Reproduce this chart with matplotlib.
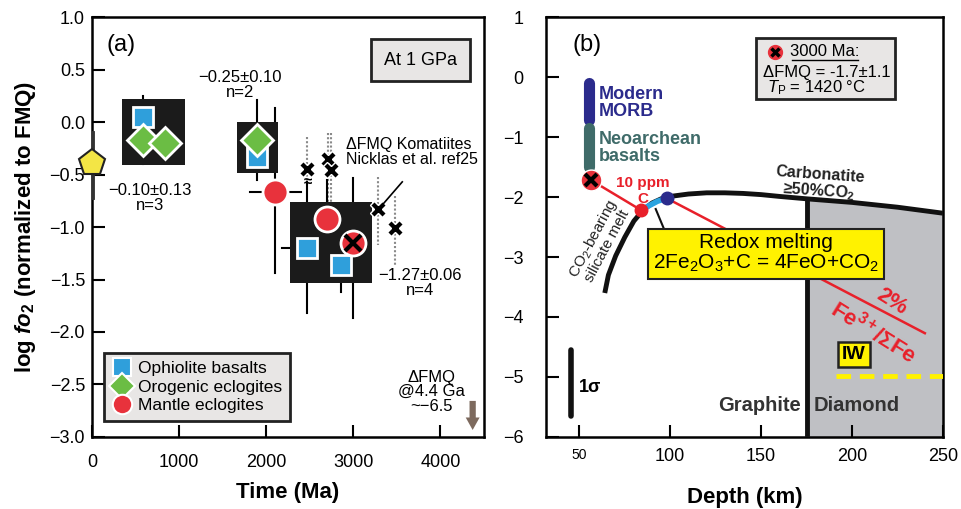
import matplotlib
matplotlib.use('Agg')
import matplotlib.pyplot as plt
from matplotlib.patches import Rectangle
from matplotlib.lines import Line2D
import numpy as np

plt.rcParams['font.family'] = ['Liberation Sans', 'DejaVu Sans']
plt.rcParams['mathtext.fontset'] = 'custom'
plt.rcParams['mathtext.rm'] = 'Liberation Sans'
plt.rcParams['mathtext.it'] = 'Liberation Sans:italic'
plt.rcParams['mathtext.bf'] = 'Liberation Sans:bold'
plt.rcParams['mathtext.bfit'] = 'Liberation Sans:italic:bold'

# ---- panel (a) data ----
oph_x = [584, 1900, 2474, 2864]
oph_y = [0.05, -0.33, -1.20, -1.36]
oro_x = [584, 836, 1900]
oro_y = [-0.17, -0.20, -0.17]
man_x = [2100, 2703, 3001]
man_y = [-0.67, -0.92, -1.15]
# vertical error bars: x, top, bottom
verr_x = [584, 1900, 2100, 2474, 2703, 3001, 2864]
verr_top = [0.25, 0.21, 0.13, -0.57, -0.55, -0.53, -1.10]
verr_bot = [-0.40, -0.55, -1.44, -1.82, -1.38, -1.87, -1.62]
# horizontal error bars: y, left, right
herr_y = [-0.67, -1.20]
herr_l = [1810, 2176]
herr_r = [2405, 2760]
# mean boxes: x0, x1, y0, y1
box_x0 = [344, 1661, 2268]
box_x1 = [1065, 2131, 3219]
box_y0 = [-0.41, -0.49, -1.53]
box_y1 = [0.22, 0.00, -0.76]
box_lab = ['\u22120.10\u00b10.13\nn=3', '\u22120.25\u00b10.10\nn=2', '\u22121.27\u00b10.06\nn=4']
box_lab_x = [664, 1695, 3770]
box_lab_y = [-0.58, 0.50, -1.39]
# komatiites
kom_x = [2474, 2715, 2749, 3287, 3482]
kom_y = [-0.45, -0.35, -0.46, -0.83, -1.01]
kom_top = [-0.14, -0.10, -0.10, -0.52, -0.70]
kom_bot = [-0.60, -0.77, -0.77, -1.17, -1.36]
# pentagon
pent_x, pent_y, pent_top, pent_bot = 0, -0.39, -0.10, -0.71

# ---- panel (b) data ----
carb_d = [64, 66, 70, 75, 80, 85, 90, 95, 100, 110, 120, 130, 140, 150, 160, 175, 200, 225, 250]
carb_y = [-3.6, -3.3, -2.98, -2.67, -2.4, -2.22, -2.1, -2.03, -1.99, -1.95, -1.93, -1.93,
          -1.94, -1.96, -1.99, -2.03, -2.09, -2.17, -2.27]
fe_d1 = [56.5, 84]
fe_y1 = [-1.72, -2.22]
fe_d2 = [98, 240]
fe_y2 = [-2.02, -4.27]
blue_d = [84, 88, 93, 98]
blue_y = [-2.22, -2.15, -2.07, -2.02]
graph_d = 175
morb_d, morb_y = 55.4, [-0.10, -0.72]
neo_d, neo_y = 55.4, [-0.85, -1.50]
sig_d, sig_y = 45.7, [-4.55, -5.65]
iw_y = -4.98

fig = plt.figure(figsize=(9.62, 5.09), dpi=100)
axa = fig.add_axes([0.0956, 0.1415, 0.4075, 0.825])
axb = fig.add_axes([0.5676, 0.1415, 0.4127, 0.825])

blue = '#2f9fdb'
green = '#6bbd44'
red = '#e8323c'

# ---------------- panel (a) ----------------
ax = axa
for x0, x1, y0, y1 in zip(box_x0, box_x1, box_y0, box_y1):
    ax.add_patch(Rectangle((x0, y0), x1 - x0, y1 - y0, fc='#1b1b1b', ec='none', zorder=2))
for x, t, b in zip(verr_x, verr_top, verr_bot):
    ax.plot([x, x], [t, b], color='k', lw=1.5, zorder=1.5)
for y, l, r in zip(herr_y, herr_l, herr_r):
    ax.plot([l, r], [y, y], color='k', lw=1.5, zorder=1.5)
for x, t, b in zip(kom_x, kom_top, kom_bot):
    ax.plot([x, x], [t, b], color='#8a8a8a', lw=1.5, ls=(0, (1, 1)), zorder=1.4)
ax.text(2474, -0.57, '\u2248', ha='center', va='center', fontsize=11, fontweight='bold', zorder=4)
ax.plot(kom_x, kom_y, ls='none', marker='X', ms=11, mfc='k', mec='white', mew=1, zorder=5)

ax.plot([pent_x, pent_x], [pent_top, pent_bot], color='#333333', lw=3.5, zorder=3)
ax.plot([pent_x], [pent_y], ls='none', marker='p', ms=20, mfc='#f3e545', mec='#222222', mew=1.5,
        zorder=4, clip_on=False)

ax.plot(oph_x, oph_y, ls='none', marker='s', ms=14, mfc=blue, mec='white', mew=2, zorder=4)
ax.plot(oro_x, oro_y, ls='none', marker='D', ms=16.5, mfc=green, mec='white', mew=2, zorder=5)
ax.plot(man_x, man_y, ls='none', marker='o', ms=18, mfc=red, mec='white', mew=2, zorder=4)
ax.plot([man_x[-1]], [man_y[-1]], ls='none', marker='x', ms=11, mec='k', mew=3, zorder=6)

for lab, x, y in zip(box_lab, box_lab_x, box_lab_y):
    ax.text(x, y, lab, ha='center', va='top', fontsize=12, linespacing=1.0, zorder=6)

ax.text(2921, -0.14, '\u0394FMQ Komatiites\nNicklas et al. ref25', ha='left', va='top',
        fontsize=11.5, linespacing=1.0, zorder=6)
ax.plot([3562, 3322], [-0.57, -0.80], color='k', lw=1.2, zorder=6)

ax.text(170, 0.73, '(a)', fontsize=17, ha='left', va='center')
ax.text(3770, 0.59, 'At 1 GPa', fontsize=13, ha='center', va='center',
        bbox=dict(boxstyle='square,pad=0.7', fc='#e8e6e5', ec='#222222', lw=2))

ax.text(3895, -2.36, '\u0394FMQ\n@4.4 Ga\n~\u22126.5', ha='center', va='top', fontsize=12,
        linespacing=0.95)
ax.annotate('', xy=(4370, -2.96), xytext=(4370, -2.63),
            arrowprops=dict(arrowstyle='simple,head_width=1.0,head_length=0.9,tail_width=0.45',
                            color='#7d6a5e', lw=0))

handles = [Line2D([], [], ls='none', marker='s', ms=13, mfc=blue, mec='white', mew=1.5),
           Line2D([], [], ls='none', marker='D', ms=13, mfc=green, mec='white', mew=1.5),
           Line2D([], [], ls='none', marker='o', ms=14, mfc=red, mec='white', mew=1.5)]
leg = ax.legend(handles, ['Ophiolite basalts', 'Orogenic eclogites', 'Mantle eclogites'],
                loc='lower left', bbox_to_anchor=(0.03, 0.038), borderaxespad=0, fontsize=12.5,
                fancybox=False, framealpha=1, handletextpad=0.35, labelspacing=0.2,
                borderpad=0.45, handlelength=1.2)
leg.get_frame().set_facecolor('#e8e6e5')
leg.get_frame().set_edgecolor('#222222')
leg.get_frame().set_linewidth(2)

ax.set_xlim(0, 4500)
ax.set_ylim(-3, 1)
ax.set_xticks([0, 1000, 2000, 3000, 4000])
ax.set_yticks(np.arange(-3, 1.01, 0.5))
ax.set_yticklabels(['\u22123.0', '\u22122.5', '\u22122.0', '\u22121.5', '\u22121.0', '\u22120.5',
                    '0.0', '0.5', '1.0'])
ax.tick_params(direction='in', length=9, width=1.5, labelsize=13)
ax.tick_params(axis='x', pad=12)
ax.tick_params(axis='y', pad=5)
for s in ax.spines.values():
    s.set_linewidth(1.8)
ax.set_xlabel('Time (Ma)', fontsize=16, fontweight='bold', labelpad=8)
ax.set_ylabel(r'log $\mathbfit{fo}_\mathbf{2}$ (normalized to FMQ)', fontsize=16,
              fontweight='bold', labelpad=8)

# ---------------- panel (b) ----------------
ax = axb
dd = [graph_d] + [d for d in carb_d if d > graph_d]
yy = [np.interp(graph_d, carb_d, carb_y)] + [y for d, y in zip(carb_d, carb_y) if d > graph_d]
ax.fill_between(dd, -6, yy, color='#bfc0c4', lw=0, zorder=1)
ax.plot([graph_d, graph_d], [-6, np.interp(graph_d, carb_d, carb_y)], color='#111111', lw=3.5,
        zorder=3)
ax.plot(carb_d, carb_y, color='#111111', lw=3.5, zorder=3, solid_capstyle='butt')

ax.plot(fe_d1, fe_y1, color='#e8202a', lw=1.8, zorder=4)
ax.plot(fe_d2, fe_y2, color='#e8202a', lw=1.8, zorder=2)
ax.plot(blue_d, blue_y, color='#2aa3e0', lw=4, zorder=4)
ax.plot([blue_d[0]], [blue_y[0]], ls='none', marker='o', ms=9, mfc='#e8202a', mec='#e8202a',
        zorder=5)
ax.plot([blue_d[-1]], [blue_y[-1]], ls='none', marker='o', ms=9, mfc='#2b2b8c', mec='#2b2b8c',
        zorder=5)
ax.plot([fe_d1[0]], [fe_y1[0]], ls='none', marker='o', ms=15, mfc=red, mec='white', mew=1,
        zorder=5)
ax.plot([fe_d1[0]], [fe_y1[0]], ls='none', marker='x', ms=9, mec='k', mew=3, zorder=6)
ax.text(85, -1.77, '10 ppm', color='#e8202a', fontsize=11, fontweight='bold', ha='center',
        va='center')
ax.text(85, -2.03, 'C', color='#e8202a', fontsize=11, fontweight='bold', ha='center',
        va='center')

ax.plot([morb_d, morb_d], morb_y, color='#2b2b8c', lw=8, solid_capstyle='round')
ax.plot([neo_d, neo_d], neo_y, color='#3f6b69', lw=8, solid_capstyle='round')
ax.text(60.5, -0.43, 'Modern\nMORB', color='#2b2b8c', fontsize=13, fontweight='bold',
        ha='left', va='center', linespacing=1.0)
ax.text(60.5, -1.18, 'Neoarchean\nbasalts', color='#3f6b69', fontsize=13, fontweight='bold',
        ha='left', va='center', linespacing=1.0)

ax.add_patch(Rectangle((147, -0.37), 76.5, 1.02, fc='#e8e6e5', ec='#222222', lw=2, zorder=4))
ax.plot([157.5], [0.42], ls='none', marker='o', ms=11, mfc=red, mec='none', zorder=5)
ax.plot([157.5], [0.42], ls='none', marker='x', ms=6, mec='k', mew=2.5, zorder=6)
ax.text(185, 0.42, '3000 Ma:', fontsize=12, ha='center', va='center', zorder=6)
ax.plot([167, 203], [0.28, 0.28], color='k', lw=1, zorder=6)
ax.text(186, 0.08, '\u0394FMQ = -1.7\u00b11.1', fontsize=12, ha='center', va='center', zorder=6)
ax.text(180.5, -0.18, '$T_\\mathrm{P}$ = 1420 \u00b0C', fontsize=12,
        ha='center', va='center', zorder=6)

ax.text(46, 0.53, '(b)', fontsize=17, ha='left', va='center')
ax.text(182, -1.78, 'Carbonatite\n\u226550%CO$_\\mathbf{2}$', fontsize=11.5, fontweight='bold',
        ha='center', va='center', rotation=-4, linespacing=1.0, color='#222222')
ax.text(61, -2.75, 'CO$_2$-bearing\nsilicate melt', fontsize=11, ha='center', va='center',
        rotation=62, linespacing=0.95, color='#222222')

ax.text(152.7, -2.94, 'Redox melting\n2Fe$_2$O$_3$+C = 4FeO+CO$_2$', fontsize=15,
        ha='center', va='center', linespacing=1.05, zorder=6,
        bbox=dict(boxstyle='square,pad=0.25', fc='#fff200', ec='#222222', lw=1.5))
ax.plot([92, 96.8], [-2.2, -2.55], color='#111111', lw=1.5, zorder=5)

ax.text(222, -3.74, '2%', color='#e8202a', fontsize=16,
        fontweight='bold', ha='center', va='center', rotation=-32)
ax.text(212, -4.25, 'Fe$^\\mathbf{3+}$/\u03a3Fe', color='#e8202a', fontsize=16,
        fontweight='bold', ha='center', va='center', rotation=-32)

ax.text(201, -4.63, 'IW', fontsize=14, fontweight='bold', ha='center', va='center', zorder=6,
        bbox=dict(boxstyle='square,pad=0.2', fc='#fff200', ec='#222222', lw=1.8))
ax.plot([191, 250], [iw_y, iw_y], color='#fff200', lw=3.5, ls=(0, (3, 1.8)), zorder=5)

ax.plot([sig_d, sig_d], sig_y, color='#111111', lw=4, solid_capstyle='round')
ax.text(49.5, -5.17, '1\u03c3', fontsize=13, fontweight='bold', ha='left', va='center')

ax.text(172, -5.47, 'Graphite', fontsize=14.5, fontweight='bold', ha='right', va='center',
        color='#333333', zorder=6)
ax.text(179, -5.47, 'Diamond', fontsize=14.5, fontweight='bold', ha='left', va='center',
        color='#333333', zorder=6)

ax.set_xlim(31.7, 250)
ax.set_ylim(-6, 1)
ax.set_xticks([50, 100, 150, 200, 250])
ax.set_yticks(range(-6, 2))
ax.set_yticklabels(['\u22126', '\u22125', '\u22124', '\u22123', '\u22122', '\u22121', '0', '1'])
ax.tick_params(direction='in', length=9, width=1.5, labelsize=13)
ax.tick_params(axis='x', pad=8)
ax.tick_params(axis='y', pad=16)
ax.get_xticklabels()[0].set_fontsize(10)
for s in ax.spines.values():
    s.set_linewidth(1.8)
ax.set_xlabel('Depth (km)', fontsize=16, fontweight='bold', labelpad=16)

fig.savefig('out.png', dpi=100)
